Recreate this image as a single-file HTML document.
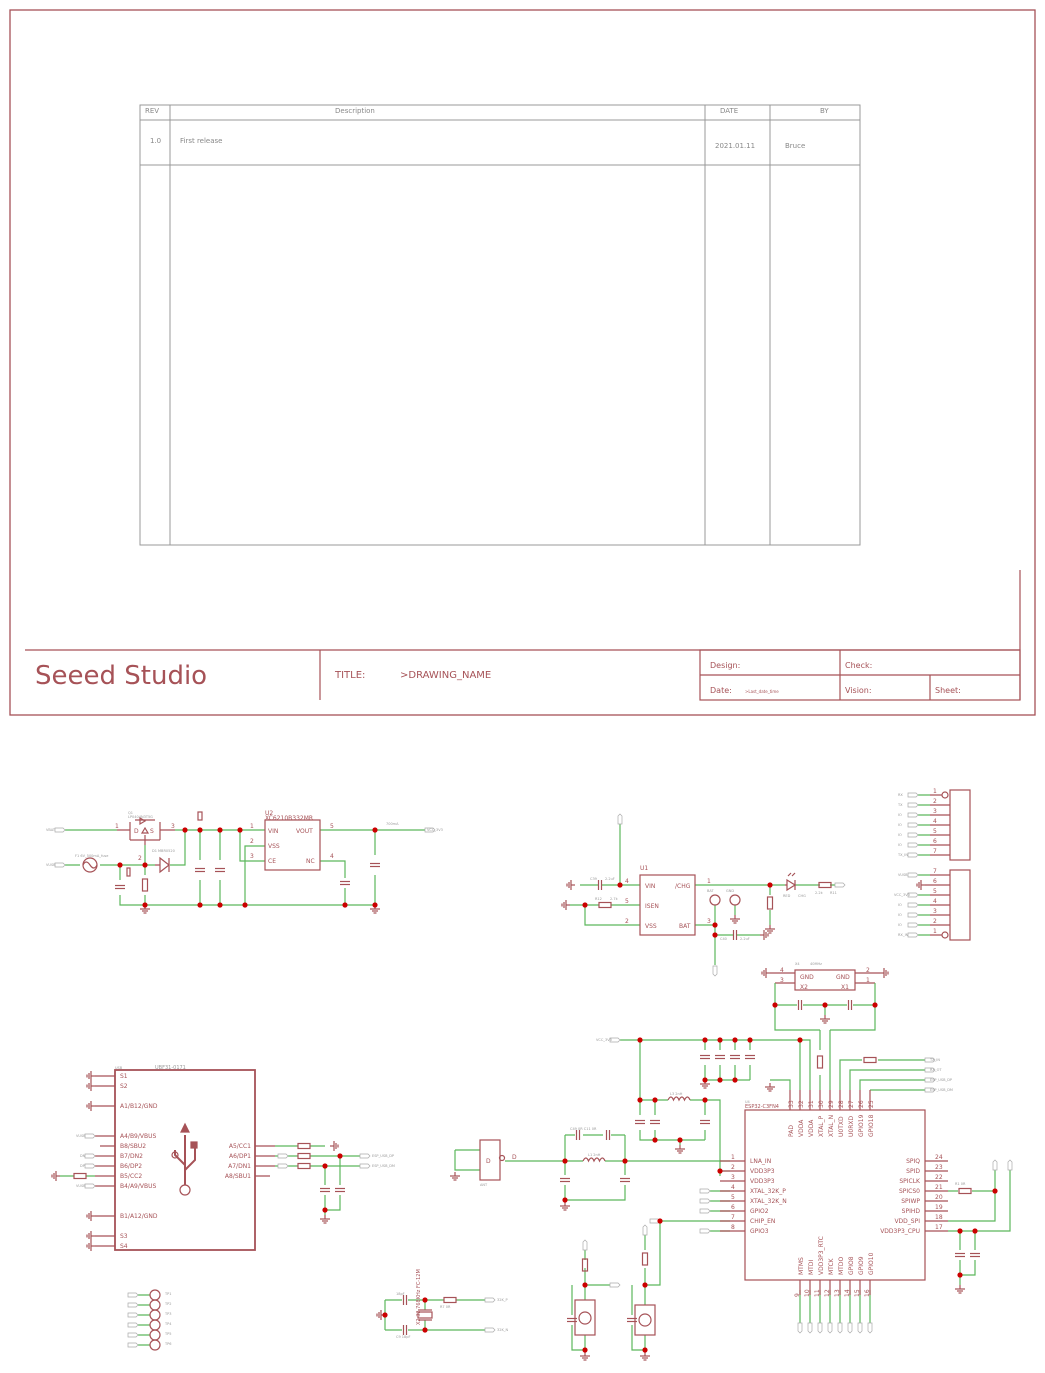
<!DOCTYPE html>
<html><head><meta charset="utf-8"><style>
html,body{margin:0;padding:0;background:#fff}
svg{display:block;font-family:"DejaVu Sans","Liberation Sans",sans-serif}
.c{stroke:#a65257;stroke-width:1.2;fill:none}
.cb{stroke:#a65257;stroke-width:1.8;fill:none}
.w{stroke:#5cb85c;stroke-width:1.2;fill:none}
.g{stroke:#999;stroke-width:1;fill:none}
.t{fill:#a65257;font-size:6px}
.s{fill:#999;font-size:3.5px}
.h{fill:#888;font-size:7px}
.p{fill:#fff;stroke:#aaa;stroke-width:.7}
</style></head><body>
<svg width="1045" height="1373" viewBox="0 0 1045 1373" xmlns="http://www.w3.org/2000/svg">
<defs>
<g id="gnd"><line class="c" x1="0" y1="0" x2="0" y2="4"/><line class="c" x1="-5" y1="4" x2="5" y2="4"/><line class="c" x1="-3" y1="6" x2="3" y2="6"/><line class="c" x1="-1.5" y1="8" x2="1.5" y2="8"/></g>
<g id="gl"><line class="c" x1="0" y1="0" x2="-4" y2="0"/><line class="c" x1="-4" y1="-5" x2="-4" y2="5"/><line class="c" x1="-6" y1="-3" x2="-6" y2="3"/><line class="c" x1="-8" y1="-1.5" x2="-8" y2="1.5"/></g>
<g id="port"><path class="p" d="M0,-2 h8 l2,2 l-2,2 h-8 z"/></g>
<g id="cv"><line class="c" x1="-5" y1="-1.5" x2="5" y2="-1.5"/><line class="c" x1="-5" y1="1.5" x2="5" y2="1.5"/></g>
<g id="ch"><line class="c" x1="-1.5" y1="-5" x2="-1.5" y2="5"/><line class="c" x1="1.5" y1="-5" x2="1.5" y2="5"/></g>
<g id="rv"><rect class="c" x="-2.5" y="-6" width="5" height="12"/></g>
<g id="rh"><rect class="c" x="-6" y="-2.5" width="12" height="5"/></g>
<circle id="d" r="2.6" fill="#cc0000"/>
</defs>

<!-- frame -->
<rect x="10" y="10" width="1025" height="705" fill="none" stroke="#a65257" stroke-width="1.3"/>
<g class="c">
<line x1="25" y1="650" x2="1020" y2="650"/><line x1="1020" y1="570" x2="1020" y2="700"/>
<line x1="320" y1="650" x2="320" y2="700"/>
<rect x="700" y="650" width="320" height="50"/><line x1="700" y1="675" x2="1020" y2="675"/>
<line x1="840" y1="650" x2="840" y2="700"/><line x1="930" y1="675" x2="930" y2="700"/>
</g>
<text x="35" y="684" fill="#a65257" font-size="26">Seeed Studio</text>
<text x="335" y="678" fill="#a65257" font-size="10">TITLE:</text>
<text x="400" y="678" fill="#a65257" font-size="10">&gt;DRAWING_NAME</text>
<text x="710" y="668" fill="#a65257" font-size="8">Design:</text>
<text x="845" y="668" fill="#a65257" font-size="8">Check:</text>
<text x="710" y="693" fill="#a65257" font-size="8">Date:</text>
<text x="745" y="693" fill="#a65257" font-size="4">&gt;Last_date_time</text>
<text x="845" y="693" fill="#a65257" font-size="8">Vision:</text>
<text x="935" y="693" fill="#a65257" font-size="8">Sheet:</text>

<!-- revision table -->
<g class="g">
<rect x="140" y="105" width="720" height="440"/>
<line x1="140" y1="120" x2="860" y2="120"/><line x1="140" y1="165" x2="860" y2="165"/>
<line x1="170" y1="105" x2="170" y2="545"/><line x1="705" y1="105" x2="705" y2="545"/><line x1="770" y1="105" x2="770" y2="545"/>
</g>
<text class="h" x="145" y="113">REV</text><text class="h" x="335" y="113">Description</text>
<text class="h" x="720" y="113">DATE</text><text class="h" x="820" y="113">BY</text>
<text class="h" x="150" y="143">1.0</text><text class="h" x="180" y="143">First release</text>
<text class="h" x="715" y="148">2021.01.11</text><text class="h" x="785" y="148">Bruce</text>

<!-- ===== power section ===== -->
<g class="w">
<path d="M65,830 H117"/><path d="M175,830 H265"/>
<path d="M65,865 H80 M100,865 H155 M170,865 H185 V830"/>
<path d="M120,865 V880 M120,895 V905 H375"/>
<path d="M145,845 V875 M145,895 V905"/>
<path d="M200,830 V860 M200,880 V905 M220,830 V860 M220,880 V905"/>
<path d="M240,830 V861 H265 M245,905 V846 H265"/>
<path d="M320,830 H425 M375,830 V855 M375,875 V905"/>
<path d="M320,861 H345 V878 M345,888 V905"/>
</g>
<g class="c"><path d="M117,830 H130 M160,830 H175 M130,822 V840 M130,840 H160 M160,822 V840 M135,820 H155"/>
<path d="M140,818 l5,3 l-5,3 z M145,828 l-3,5 h6 z"/><line x1="145" y1="835" x2="145" y2="845"/>
<path d="M155,865 h5 M160,858 l9,7 l-9,7 z M169,858 V872"/>
<circle cx="90" cy="865" r="7"/><path d="M83,865 q3,-6 7,0 t7,0"/>
<rect x="265" y="820" width="55" height="50"/>
<rect x="127" y="868" width="3" height="8"/><rect x="198" y="812" width="4" height="8"/>
</g>
<use href="#cv" x="120" y="887"/><use href="#rv" x="145" y="885"/>
<use href="#cv" x="200" y="870"/><use href="#cv" x="220" y="870"/>
<use href="#cv" x="375" y="865"/><use href="#cv" x="345" y="883"/>
<use href="#port" x="55" y="830"/><use href="#port" x="55" y="865"/><use href="#port" x="425" y="830"/>
<use href="#gnd" x="145" y="905"/><use href="#gnd" x="375" y="905"/>
<g><use href="#d" x="185" y="830"/><use href="#d" x="200" y="830"/><use href="#d" x="220" y="830"/><use href="#d" x="240" y="830"/><use href="#d" x="375" y="830"/>
<use href="#d" x="120" y="865"/><use href="#d" x="145" y="865"/>
<use href="#d" x="145" y="905"/><use href="#d" x="200" y="905"/><use href="#d" x="220" y="905"/><use href="#d" x="245" y="905"/><use href="#d" x="345" y="905"/><use href="#d" x="375" y="905"/></g>
<text class="t" x="268" y="833">VIN</text><text class="t" x="268" y="848">VSS</text><text class="t" x="268" y="863">CE</text>
<text class="t" x="296" y="833">VOUT</text><text class="t" x="306" y="863">NC</text>
<text class="t" x="250" y="828">1</text><text class="t" x="250" y="843">2</text><text class="t" x="250" y="858">3</text><text class="t" x="330" y="828">5</text><text class="t" x="330" y="858">4</text>
<text class="t" x="115" y="828">1</text><text class="t" x="171" y="828">3</text><text class="t" x="138" y="860">2</text><text class="t" x="134" y="833">D</text><text class="t" x="150" y="833">S</text>
<text class="t" x="265" y="815">U2</text><text class="t" x="265" y="820" font-size="5">XC6210B332MR</text>
<text class="s" x="128" y="814">Q1</text><text class="s" x="128" y="818">LP0404N3T5G</text><text class="s" x="152" y="852">D1 MBR0520</text>
<text class="s" x="75" y="857">F1  6V_500mA_fuse</text><text class="s" x="46" y="831">VBAT</text><text class="s" x="46" y="866">VUSB</text><text class="s" x="386" y="825">700mA</text><text class="s" x="427" y="831">VCC_3V3</text>

<!-- ===== charger ===== -->
<g class="w">
<path d="M620,820 V885 M580,885 H598 M602,885 H640"/>
<path d="M570,905 H599 M611,905 H640 M585,905 V925 H640"/>
<path d="M695,885 H785 M770,885 V895 M770,910 V925"/>
<path d="M695,925 H715 V965 M715,935 H733 M737,935 H760"/>
<path d="M715,905 V925 M735,905 V915"/>
<path d="M795,885 H820 M830,885 H840"/>
</g>
<g class="c"><rect x="640" y="875" width="55" height="60"/>
<circle cx="715" cy="900" r="5"/><circle cx="735" cy="900" r="5"/>
<path d="M785,885 h2 M787,880 l8,5 l-8,5 z M795,880 V890 M788,876 l3,-3 M792,876 l3,-3"/>
</g>
<use href="#ch" x="600" y="885"/><use href="#ch" x="735" y="935"/>
<use href="#rh" x="605" y="905"/><use href="#rv" x="770" y="903"/><use href="#rh" x="825" y="885"/>
<use href="#gl" x="575" y="885"/><use href="#gl" x="570" y="905"/><use href="#gl" x="760" y="935" transform="rotate(180 760 935)"/>
<use href="#gnd" x="770" y="925"/><use href="#gnd" x="735" y="915"/>
<g transform="rotate(-90 620 816)"><use href="#port" x="612" y="816"/></g>
<g transform="rotate(90 715 966)"><use href="#port" x="715" y="966"/></g>
<use href="#port" x="835" y="885"/>
<use href="#d" x="620" y="885"/><use href="#d" x="585" y="905"/><use href="#d" x="770" y="885"/><use href="#d" x="715" y="925"/><use href="#d" x="715" y="935"/>
<text class="t" x="645" y="888">VIN</text><text class="t" x="645" y="908">ISEN</text><text class="t" x="645" y="928">VSS</text>
<text class="t" x="675" y="888">/CHG</text><text class="t" x="679" y="928">BAT</text>
<text class="t" x="625" y="883">4</text><text class="t" x="625" y="903">5</text><text class="t" x="625" y="923">2</text><text class="t" x="707" y="883">1</text><text class="t" x="707" y="923">3</text>
<text class="t" x="640" y="870">U1</text>
<text class="s" x="590" y="880">C39</text><text class="s" x="605" y="880">2.2uF</text><text class="s" x="595" y="900">R12</text><text class="s" x="610" y="900">2.7k</text>
<text class="s" x="707" y="892">BAT</text><text class="s" x="726" y="892">GND</text><text class="s" x="720" y="940">C40</text><text class="s" x="740" y="940">2.2uF</text>
<text class="s" x="783" y="897">RED</text><text class="s" x="798" y="897">CHG</text><text class="s" x="815" y="894">2.2k</text><text class="s" x="830" y="894">R11</text>

<!-- connectors -->
<g class="c"><rect x="950" y="790" width="20" height="70"/><rect x="950" y="870" width="20" height="70"/>
<circle cx="945" cy="795" r="3"/><circle cx="945" cy="935" r="3"/></g>
<g class="w"><path d="M918,795 H930 M918,805 H930 M918,815 H930 M918,825 H930 M918,835 H930 M918,845 H930 M918,855 H930 M918,875 H930 M918,895 H930 M918,905 H930 M918,915 H930 M918,925 H930 M918,935 H930"/></g>
<g class="c"><path d="M930,795 H942 M930,805 H950 M930,815 H950 M930,825 H950 M930,835 H950 M930,845 H950 M930,855 H950 M930,875 H950 M925,885 H950 M930,895 H950 M930,905 H950 M930,915 H950 M930,925 H950 M930,935 H942"/></g>
<use href="#gl" x="925" y="885"/>
<g><use href="#port" x="908" y="795"/><use href="#port" x="908" y="805"/><use href="#port" x="908" y="815"/><use href="#port" x="908" y="825"/><use href="#port" x="908" y="835"/><use href="#port" x="908" y="845"/><use href="#port" x="908" y="855"/>
<use href="#port" x="908" y="875"/><use href="#port" x="908" y="895"/><use href="#port" x="908" y="905"/><use href="#port" x="908" y="915"/><use href="#port" x="908" y="925"/><use href="#port" x="908" y="935"/></g>
<g class="t"><text x="933" y="793">1</text><text x="933" y="803">2</text><text x="933" y="813">3</text><text x="933" y="823">4</text><text x="933" y="833">5</text><text x="933" y="843">6</text><text x="933" y="853">7</text>
<text x="933" y="873">7</text><text x="933" y="883">6</text><text x="933" y="893">5</text><text x="933" y="903">4</text><text x="933" y="913">3</text><text x="933" y="923">2</text><text x="933" y="933">1</text></g>
<g class="s"><text x="898" y="796">RX</text><text x="898" y="806">TX</text><text x="898" y="816">IO</text><text x="898" y="826">IO</text><text x="898" y="836">IO</text><text x="898" y="846">IO</text><text x="898" y="856">TX_IN</text>
<text x="898" y="876">VUSB</text><text x="894" y="896">VCC_3V3</text><text x="898" y="906">IO</text><text x="898" y="916">IO</text><text x="898" y="926">IO</text><text x="898" y="936">RX_IN</text></g>

<!-- X4 crystal -->
<g class="c"><rect x="795" y="970" width="60" height="20"/><path d="M770,973 H795 M855,973 H880 M775,983 H795 M855,983 H875"/></g>
<use href="#gl" x="770" y="973"/><use href="#gl" x="880" y="973" transform="rotate(180 880 973)"/>
<g class="w"><path d="M775,983 V1030 H820 M875,983 V1030 H830 M775,1005 H797 M803,1005 H847 M853,1005 H875 M825,1005 V1015"/></g>
<use href="#ch" x="800" y="1005"/><use href="#ch" x="850" y="1005"/><use href="#gnd" x="825" y="1015"/>
<use href="#d" x="775" y="1005"/><use href="#d" x="825" y="1005"/><use href="#d" x="875" y="1005"/>
<text class="t" x="800" y="979">GND</text><text class="t" x="836" y="979">GND</text><text class="t" x="800" y="989">X2</text><text class="t" x="841" y="989">X1</text>
<text class="t" x="780" y="972">4</text><text class="t" x="866" y="972">2</text><text class="t" x="780" y="982">3</text><text class="t" x="866" y="982">1</text>
<text class="s" x="795" y="965">X4</text><text class="s" x="810" y="965">40MHz</text>

<!-- ===== ESP32 ===== -->
<rect class="c" x="745" y="1110" width="180" height="170"/>
<g class="w">
<path d="M620,1040 H810 V1090 M800,1040 V1090 M640,1040 V1100"/>
<path d="M705,1040 V1050 M720,1040 V1050 M735,1040 V1050 M750,1040 V1050 M705,1065 V1080 H750 M720,1065 V1080 M735,1065 V1080 M750,1065 V1080"/>
<path d="M770,1080 H790 V1090"/>
<path d="M820,1030 V1050 M820,1075 V1090 M830,1030 V1090"/>
<path d="M840,1090 V1060 H862 M878,1060 H925 M850,1090 V1070 H925 M860,1090 V1080 H925 M870,1090 V1090 H925"/>
<path d="M640,1100 H668 M690,1100 H720 V1176 M640,1100 V1115 M640,1130 V1140 H705 M655,1100 V1115 M655,1130 V1140 M705,1100 V1115 M705,1130 V1140 M680,1140 V1145"/>
<path d="M505,1161 H583 M605,1161 H730 M565,1135 V1161 M625,1135 V1161 M565,1135 H575 M611,1135 H625 M583,1135 H603"/>
<path d="M565,1161 V1175 M565,1185 V1200 H625 V1185 M625,1175 V1161"/>
<path d="M455,1150 H480 M455,1150 V1170 H480"/>
<path d="M710,1191 H730 M710,1201 H730 M710,1211 H730 M660,1221 H730 M710,1231 H730"/>
<path d="M720,1171 H730"/>
<path d="M660,1221 V1285 H645 M645,1235 V1250 M645,1268 V1305 M632,1285 V1315 M632,1325 V1350 H645 M645,1335 V1350"/>
<path d="M585,1268 V1300 M585,1285 H610 M572,1285 V1315 M572,1325 V1350 H585 M585,1335 V1350 M585,1250 V1260"/>
<path d="M948,1191 H958 M972,1191 H995 V1170 M948,1221 H995 V1191 M948,1231 H1010 V1170 M960,1231 V1250 M975,1231 V1250 M960,1260 V1275 H975 V1260 M960,1275 V1285"/>
<path d="M800,1290 V1325 M810,1290 V1325 M820,1290 V1325 M830,1290 V1325 M840,1290 V1325 M850,1290 V1325 M860,1290 V1325 M870,1290 V1325"/>
</g>
<g class="c">
<path d="M790,1090 V1110 M800,1090 V1110 M810,1090 V1110 M820,1090 V1110 M830,1090 V1110 M840,1090 V1110 M850,1090 V1110 M860,1090 V1110 M870,1090 V1110"/>
<path d="M720,1161 H745 M720,1171 H745 M720,1181 H745 M720,1191 H745 M720,1201 H745 M720,1211 H745 M720,1221 H745 M720,1231 H745"/>
<path d="M925,1161 H948 M925,1171 H948 M925,1181 H948 M925,1191 H948 M925,1201 H948 M925,1211 H948 M925,1221 H948 M925,1231 H948"/>
<path d="M800,1280 V1295 M810,1280 V1295 M820,1280 V1295 M830,1280 V1295 M840,1280 V1295 M850,1280 V1295 M860,1280 V1295 M870,1280 V1295"/>
<path d="M668,1100 q3,-6 5.5,0 q3,-6 5.5,0 q3,-6 5.5,0 q3,-6 5.5,0"/>
<path d="M583,1161 q3,-6 5.5,0 q3,-6 5.5,0 q3,-6 5.5,0 q3,-6 5.5,0"/>
<rect x="480" y="1140" width="20" height="40"/><circle cx="502" cy="1158" r="2.5"/>
<rect x="575" y="1300" width="20" height="35"/><circle cx="585" cy="1318" r="6"/>
<rect x="635" y="1305" width="20" height="30"/><circle cx="645" cy="1320" r="6"/>
</g>
<use href="#cv" x="705" y="1057"/><use href="#cv" x="720" y="1057"/><use href="#cv" x="735" y="1057"/><use href="#cv" x="750" y="1057"/>
<use href="#rv" x="820" y="1062"/><use href="#rh" x="870" y="1060"/>
<use href="#cv" x="640" y="1122"/><use href="#cv" x="655" y="1122"/><use href="#cv" x="705" y="1122"/>
<use href="#ch" x="578" y="1135"/><use href="#ch" x="608" y="1135"/>
<use href="#cv" x="565" y="1180"/><use href="#cv" x="625" y="1180"/>
<use href="#rv" x="645" y="1259"/><use href="#rv" x="585" y="1265"/>
<use href="#cv" x="632" y="1320"/><use href="#cv" x="572" y="1320"/>
<use href="#rh" x="965" y="1191"/><use href="#cv" x="960" y="1255"/><use href="#cv" x="975" y="1255"/>
<use href="#gnd" x="705" y="1080"/><use href="#gnd" x="770" y="1083"/><use href="#gnd" x="680" y="1145"/><use href="#gnd" x="565" y="1202"/>
<use href="#gnd" x="455" y="1172"/><use href="#gnd" x="645" y="1352"/><use href="#gnd" x="585" y="1352"/><use href="#gnd" x="960" y="1285"/>
<use href="#port" x="610" y="1040"/><use href="#port" x="925" y="1060"/><use href="#port" x="925" y="1070"/><use href="#port" x="925" y="1080"/><use href="#port" x="925" y="1090"/>
<use href="#port" x="700" y="1191"/><use href="#port" x="700" y="1201"/><use href="#port" x="700" y="1211"/><use href="#port" x="650" y="1221"/><use href="#port" x="700" y="1231"/><use href="#port" x="610" y="1285"/>
<g transform="rotate(-90 645 1235)"><use href="#port" x="645" y="1235"/></g>
<g transform="rotate(-90 585 1250)"><use href="#port" x="585" y="1250"/></g>
<g transform="rotate(-90 995 1170)"><use href="#port" x="995" y="1170"/></g>
<g transform="rotate(-90 1010 1170)"><use href="#port" x="1010" y="1170"/></g>
<g><g transform="rotate(90 800 1323)"><use href="#port" x="800" y="1323"/></g><g transform="rotate(90 810 1323)"><use href="#port" x="810" y="1323"/></g><g transform="rotate(90 820 1323)"><use href="#port" x="820" y="1323"/></g><g transform="rotate(90 830 1323)"><use href="#port" x="830" y="1323"/></g><g transform="rotate(90 840 1323)"><use href="#port" x="840" y="1323"/></g><g transform="rotate(90 850 1323)"><use href="#port" x="850" y="1323"/></g><g transform="rotate(90 860 1323)"><use href="#port" x="860" y="1323"/></g><g transform="rotate(90 870 1323)"><use href="#port" x="870" y="1323"/></g></g>
<g><use href="#d" x="640" y="1040"/><use href="#d" x="705" y="1040"/><use href="#d" x="720" y="1040"/><use href="#d" x="735" y="1040"/><use href="#d" x="750" y="1040"/><use href="#d" x="800" y="1040"/>
<use href="#d" x="705" y="1080"/><use href="#d" x="720" y="1080"/><use href="#d" x="735" y="1080"/>
<use href="#d" x="640" y="1100"/><use href="#d" x="655" y="1100"/><use href="#d" x="705" y="1100"/><use href="#d" x="655" y="1140"/><use href="#d" x="680" y="1140"/>
<use href="#d" x="565" y="1161"/><use href="#d" x="625" y="1161"/><use href="#d" x="565" y="1200"/><use href="#d" x="720" y="1171"/>
<use href="#d" x="660" y="1221"/><use href="#d" x="645" y="1285"/><use href="#d" x="645" y="1350"/><use href="#d" x="585" y="1285"/><use href="#d" x="585" y="1350"/>
<use href="#d" x="995" y="1191"/><use href="#d" x="960" y="1231"/><use href="#d" x="975" y="1231"/><use href="#d" x="960" y="1275"/></g>
<g class="t">
<text x="750" y="1163">LNA_IN</text><text x="750" y="1173">VDD3P3</text><text x="750" y="1183">VDD3P3</text><text x="750" y="1193">XTAL_32K_P</text><text x="750" y="1203">XTAL_32K_N</text><text x="750" y="1213">GPIO2</text><text x="750" y="1223">CHIP_EN</text><text x="750" y="1233">GPIO3</text>
<text x="920" y="1163" text-anchor="end">SPIQ</text><text x="920" y="1173" text-anchor="end">SPID</text><text x="920" y="1183" text-anchor="end">SPICLK</text><text x="920" y="1193" text-anchor="end">SPICS0</text><text x="920" y="1203" text-anchor="end">SPIWP</text><text x="920" y="1213" text-anchor="end">SPIHD</text><text x="920" y="1223" text-anchor="end">VDD_SPI</text><text x="920" y="1233" text-anchor="end">VDD3P3_CPU</text>
<text x="731" y="1159">1</text><text x="731" y="1169">2</text><text x="731" y="1179">3</text><text x="731" y="1189">4</text><text x="731" y="1199">5</text><text x="731" y="1209">6</text><text x="731" y="1219">7</text><text x="731" y="1229">8</text>
<text x="935" y="1159">24</text><text x="935" y="1169">23</text><text x="935" y="1179">22</text><text x="935" y="1189">21</text><text x="935" y="1199">20</text><text x="935" y="1209">19</text><text x="935" y="1219">18</text><text x="935" y="1229">17</text>
<g transform="rotate(-90)">
<text x="-1137" y="793">PAD</text><text x="-1137" y="803">VDDA</text><text x="-1137" y="813">VDDA</text><text x="-1137" y="823">XTAL_P</text><text x="-1137" y="833">XTAL_N</text><text x="-1137" y="843">U0TXD</text><text x="-1137" y="853">U0RXD</text><text x="-1137" y="863">GPIO19</text><text x="-1137" y="873">GPIO18</text>
<text x="-1108" y="793">33</text><text x="-1108" y="803">32</text><text x="-1108" y="813">31</text><text x="-1108" y="823">30</text><text x="-1108" y="833">29</text><text x="-1108" y="843">28</text><text x="-1108" y="853">27</text><text x="-1108" y="863">26</text><text x="-1108" y="873">25</text>
<text x="-1275" y="803">MTMS</text><text x="-1275" y="813">MTDI</text><text x="-1275" y="823">VDD3P3_RTC</text><text x="-1275" y="833">MTCK</text><text x="-1275" y="843">MTDO</text><text x="-1275" y="853">GPIO8</text><text x="-1275" y="863">GPIO9</text><text x="-1275" y="873">GPIO10</text>
<text x="-1297" y="799">9</text><text x="-1297" y="809">10</text><text x="-1297" y="819">11</text><text x="-1297" y="829">12</text><text x="-1297" y="839">13</text><text x="-1297" y="849">14</text><text x="-1297" y="859">15</text><text x="-1297" y="869">16</text>
</g>
<text x="745" y="1108" font-size="5">ESP32-C3FN4</text>
<text x="486" y="1163">D</text><text x="512" y="1159">D</text>
</g>
<text class="s" x="745" y="1103">U4</text><text class="s" x="596" y="1041">VCC_3V3</text><text class="s" x="480" y="1186">ANT</text>
<text class="s" x="930" y="1061">TX_IN</text><text class="s" x="930" y="1071">RX_OT</text><text class="s" x="930" y="1081">ESP_USB_DP</text><text class="s" x="930" y="1091">ESP_USB_DM</text>
<text class="s" x="670" y="1095">L3  2nH</text><text class="s" x="570" y="1130">C49  0R     C11  0R</text><text class="s" x="588" y="1156">L1  2nH</text>
<text class="s" x="955" y="1185">R1  0R</text>

<!-- ===== USB ===== -->
<rect class="cb" x="115" y="1070" width="140" height="180"/>
<g class="c"><path d="M95,1076 H115 M95,1086 H115 M95,1106 H115 M95,1136 H115 M100,1146 H115 M95,1156 H115 M95,1166 H115 M95,1176 H115 M95,1186 H115 M95,1216 H115 M95,1236 H115 M95,1246 H115"/>
<path d="M255,1146 H275 M255,1156 H275 M255,1166 H275 M255,1176 H270"/>
<path d="M185,1135 V1185 M185,1165 L175,1155 V1150 M185,1170 L195,1160 V1148" stroke-width="2"/><path d="M181,1132 L185,1124 L189,1132 Z" fill="#a65257"/>
<rect x="191" y="1142" width="6" height="6" fill="#a65257"/><circle cx="175" cy="1155" r="3"/><circle cx="185" cy="1190" r="5"/></g>
<use href="#gl" x="95" y="1076"/><use href="#gl" x="95" y="1086"/><use href="#gl" x="95" y="1106"/><use href="#gl" x="95" y="1216"/><use href="#gl" x="95" y="1236"/><use href="#gl" x="95" y="1246"/><use href="#gl" x="60" y="1176"/>
<g class="w"><path d="M275,1146 H298 M310,1146 H325 M275,1156 H298 M310,1156 H360 M275,1166 H298 M310,1166 H360 M340,1156 V1185 M325,1166 V1185 M325,1195 V1210 H340 V1195 M325,1210 V1215 M60,1176 H74 M86,1176 H95"/></g>
<use href="#gl" x="330" y="1146" transform="rotate(180 330 1146)"/>
<use href="#rh" x="304" y="1146"/><use href="#rh" x="304" y="1156"/><use href="#rh" x="304" y="1166"/><use href="#rh" x="80" y="1176"/>
<use href="#cv" x="325" y="1190"/><use href="#cv" x="340" y="1190"/><use href="#gnd" x="325" y="1215"/>
<use href="#port" x="360" y="1156"/><use href="#port" x="360" y="1166"/><use href="#port" x="278" y="1156"/><use href="#port" x="278" y="1166"/>
<use href="#port" x="85" y="1136"/><use href="#port" x="85" y="1156"/><use href="#port" x="85" y="1166"/><use href="#port" x="85" y="1186"/>
<use href="#d" x="340" y="1156"/><use href="#d" x="325" y="1166"/><use href="#d" x="325" y="1210"/>
<g class="t"><text x="120" y="1078">S1</text><text x="120" y="1088">S2</text><text x="120" y="1108">A1/B12/GND</text><text x="120" y="1138">A4/B9/VBUS</text><text x="120" y="1148">B8/SBU2</text><text x="120" y="1158">B7/DN2</text><text x="120" y="1168">B6/DP2</text><text x="120" y="1178">B5/CC2</text><text x="120" y="1188">B4/A9/VBUS</text><text x="120" y="1218">B1/A12/GND</text><text x="120" y="1238">S3</text><text x="120" y="1248">S4</text>
<text x="251" y="1148" text-anchor="end">A5/CC1</text><text x="251" y="1158" text-anchor="end">A6/DP1</text><text x="251" y="1168" text-anchor="end">A7/DN1</text><text x="251" y="1178" text-anchor="end">A8/SBU1</text>
<text x="155" y="1069" font-size="5" fill="#999">UBF31-0171</text></g>
<text class="s" x="115" y="1069">USB</text><text class="s" x="76" y="1137">VUSB</text><text class="s" x="80" y="1157">DN</text><text class="s" x="80" y="1167">DP</text><text class="s" x="76" y="1187">VUSB</text>
<text class="s" x="372" y="1157">ESP_USB_DP</text><text class="s" x="372" y="1167">ESP_USB_DM</text>

<!-- test points -->
<g class="w"><path d="M138,1295 H150 M138,1305 H150 M138,1315 H150 M138,1325 H150 M138,1335 H150 M138,1345 H150"/></g>
<g class="c"><circle cx="155" cy="1295" r="5"/><circle cx="155" cy="1305" r="5"/><circle cx="155" cy="1315" r="5"/><circle cx="155" cy="1325" r="5"/><circle cx="155" cy="1335" r="5"/><circle cx="155" cy="1345" r="5"/></g>
<use href="#port" x="128" y="1295"/><use href="#port" x="128" y="1305"/><use href="#port" x="128" y="1315"/><use href="#port" x="128" y="1325"/><use href="#port" x="128" y="1335"/><use href="#port" x="128" y="1345"/>
<g class="s"><text x="165" y="1295">TP1</text><text x="165" y="1305">TP2</text><text x="165" y="1315">TP3</text><text x="165" y="1325">TP4</text><text x="165" y="1335">TP5</text><text x="165" y="1345">TP6</text></g>

<!-- X2 crystal -->
<g class="w"><path d="M385,1300 V1330 M385,1300 H402 M408,1300 H444 M456,1300 H485 M385,1330 H402 M408,1330 H485 M425,1300 V1310 M425,1320 V1330"/></g>
<use href="#ch" x="405" y="1300"/><use href="#ch" x="405" y="1330"/><use href="#rh" x="450" y="1300"/><use href="#gl" x="385" y="1315"/>
<rect class="c" x="418" y="1312" width="14" height="6"/><line class="c" x1="418" y1="1310" x2="432" y2="1310"/><line class="c" x1="418" y1="1320" x2="432" y2="1320"/>
<use href="#port" x="485" y="1300"/><use href="#port" x="485" y="1330"/>
<use href="#d" x="425" y="1300"/><use href="#d" x="425" y="1330"/><use href="#d" x="385" y="1315"/>
<text x="420" y="1325" transform="rotate(-90 420 1325)" font-size="5" fill="#a65257">X2 32.768KHz FC-12M</text>
<text class="s" x="396" y="1295">18pF</text><text class="s" x="396" y="1338">C9  18pF</text><text class="s" x="440" y="1308">R7   0R</text><text class="s" x="497" y="1301">32K_P</text><text class="s" x="497" y="1331">32K_N</text>
</svg>
</body></html>
